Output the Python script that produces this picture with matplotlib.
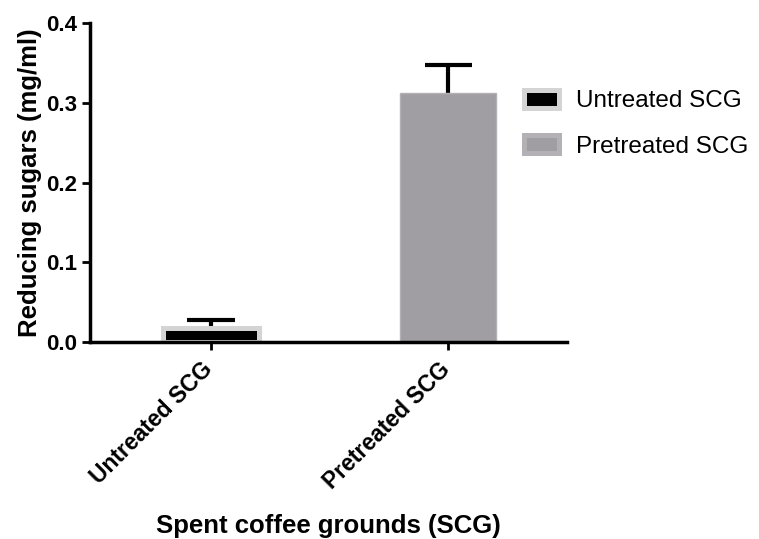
import matplotlib.pyplot as plt
import matplotlib.transforms as mtransforms
from matplotlib.patches import Patch

plt.rcParams['font.family'] = ['Liberation Sans', 'DejaVu Sans']

# reducing sugar yield per sample
groups = ['Untreated SCG', 'Pretreated SCG']
means = [0.017, 0.313]
errors = [0.011, 0.035]
fills = ['#000000', '#a09ea3']
edges = ['#d4d4d4', '#b3b1b5']
yticks = [0.0, 0.1, 0.2, 0.3, 0.4]

fig = plt.figure(figsize=(7.59, 5.39), dpi=100)
ax = fig.add_axes([0.1186, 0.3655, 0.6284, 0.5915])

x = list(range(len(groups)))
# upper-only error bars, drawn under the bars so the stem starts at the bar top
tops = [m + e for m, e in zip(means, errors)]
ax.vlines(x, means, tops, color='black', linewidth=3, zorder=1)
ax.hlines(tops, [i - 0.1 for i in x], [i + 0.1 for i in x],
          color='black', linewidth=3, zorder=1)
ax.bar(x, means, width=0.405, color=fills, edgecolor=edges,
       linewidth=[3.6, 1.0], zorder=2)

ax.set_xlim(-0.51, 1.5)
ax.set_ylim(0, 0.4)
ax.set_yticks(yticks)
ax.set_yticklabels([f'{v:.1f}' for v in yticks], fontsize=16, fontweight='bold')
ax.set_xticks(x)
ax.tick_params(width=2, length=6, direction='out')
ax.set_xticklabels(groups, rotation=45, ha='right', rotation_mode='anchor',
                   fontsize=16.5, fontweight='bold')
# nudge the slanted labels so their upper end sits under the tick
shift = mtransforms.ScaledTranslation(-7 / 72, -2 / 72, fig.dpi_scale_trans)
for lbl in ax.get_xticklabels():
    lbl.set_transform(lbl.get_transform() + shift)
for side in ['top', 'right']:
    ax.spines[side].set_visible(False)
for side in ['left', 'bottom']:
    ax.spines[side].set_linewidth(2.5)

ax.set_ylabel('Reducing sugars (mg/ml)', fontsize=18.5, fontweight='bold', labelpad=3)
ax.set_xlabel('Spent coffee grounds (SCG)', fontsize=18.5, fontweight='bold', labelpad=15)

handles = [Patch(facecolor=f, edgecolor=e, linewidth=3.6, label=g)
           for g, f, e in zip(groups, fills, edges)]
fig.legend(handles=handles, loc='upper left', bbox_to_anchor=(0.661, 0.874),
           frameon=False, fontsize=17.5, handlelength=1.45, handleheight=0.75,
           labelspacing=0.95, handletextpad=0.7)

fig.savefig('out.png', dpi=100)
